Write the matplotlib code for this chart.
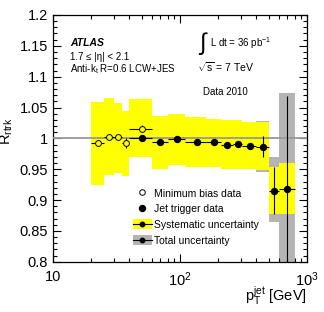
import numpy as np
import matplotlib
matplotlib.use('Agg')
import matplotlib.pyplot as plt
from matplotlib.patches import Patch
from matplotlib.lines import Line2D
from matplotlib.ticker import FixedLocator, FixedFormatter, MultipleLocator, LogLocator, NullFormatter

plt.rcParams['font.family'] = ['Liberation Sans', 'DejaVu Sans']
plt.rcParams['mathtext.fontset'] = 'custom'
plt.rcParams['mathtext.rm'] = 'Liberation Sans'
plt.rcParams['mathtext.it'] = 'Liberation Sans:italic'
plt.rcParams['mathtext.bf'] = 'Liberation Sans:bold'

# pT bin edges [GeV]
edges = np.array([20, 25, 30, 35, 40, 60, 80, 110, 160, 210, 260, 310, 400, 500, 600, 800])

# systematic uncertainty band (lower / upper edge per bin)
sys_lo = [0.925, 0.940, 0.944, 0.939, 0.969, 0.950, 0.957, 0.954, 0.954, 0.951, 0.951, 0.950, 0.9486, 0.878, 0.878]
sys_hi = [1.059, 1.066, 1.058, 1.044, 1.064, 1.036, 1.039, 1.034, 1.032, 1.030, 1.030, 1.027, 1.026, 0.954, 0.9595]
# total uncertainty band
tot_lo = [0.925, 0.940, 0.944, 0.939, 0.969, 0.950, 0.957, 0.954, 0.954, 0.951, 0.951, 0.950, 0.946, 0.865, 0.75]
tot_hi = [1.059, 1.066, 1.058, 1.044, 1.064, 1.036, 1.039, 1.034, 1.032, 1.030, 1.030, 1.027, 1.0285, 0.969, 1.074]

# minimum bias data (first 5 bins)
mb_y = [0.992, 1.003, 1.0015, 0.992, 1.016]
mb_err = [0.002, 0.002, 0.002, 0.008, 0.005]

# jet trigger data (bins 5..15)
jet_y = [1.000, 0.9935, 0.999, 0.9935, 0.9935, 0.989, 0.991, 0.988, 0.9865, 0.915, 0.918]
jet_err = [0.002, 0.002, 0.002, 0.002, 0.002, 0.003, 0.003, 0.004, 0.017, 0.038, 0.15]

yellow = '#ffff00'
grey = '#b4b4b4'

left = edges[:-1]
right = edges[1:]
centers = 0.5 * (left + right)
widths = right - left

fig = plt.figure(figsize=(3.24, 3.12), dpi=100)
ax = fig.add_axes([0.1636, 0.161, 0.784, 0.791])
ax.set_xscale('log')

# bands
ax.bar(left, np.array(tot_hi) - np.array(tot_lo), width=widths, bottom=tot_lo,
       align='edge', color=grey, linewidth=0, zorder=1)
ax.bar(left, np.array(sys_hi) - np.array(sys_lo), width=widths, bottom=sys_lo,
       align='edge', color=yellow, linewidth=0, zorder=2)

ax.axhline(1.0, color='#999999', lw=1.3, zorder=3)

# minimum bias points
xm = centers[:5]
ax.errorbar(xm, mb_y, yerr=mb_err, xerr=[xm - left[:5], right[:5] - xm],
            fmt='o', ms=4.2, mfc=yellow, mec='black', mew=0.7, color='black',
            elinewidth=0.8, capsize=0, zorder=4)

# jet trigger points
xj = centers[4:]
ax.errorbar(xj, jet_y, yerr=jet_err, xerr=[xj - left[4:], right[4:] - xj],
            fmt='o', ms=4.3, mfc='black', mec='black', color='black',
            elinewidth=0.8, capsize=0, zorder=5)

ax.set_xlim(10, 1000)
ax.set_ylim(0.8, 1.2)

ax.xaxis.set_major_locator(FixedLocator([10, 100, 1000]))
ax.xaxis.set_major_formatter(FixedFormatter(['10', '$10^2$', '$10^3$']))
ax.xaxis.set_minor_locator(LogLocator(base=10, subs=np.arange(2, 10)))
ax.xaxis.set_minor_formatter(NullFormatter())
ax.yaxis.set_minor_locator(MultipleLocator(0.01))
ax.set_yticks([0.8, 0.85, 0.9, 0.95, 1.0, 1.05, 1.1, 1.15, 1.2])
ax.set_yticklabels(['0.8', '0.85', '0.9', '0.95', '1', '1.05', '1.1', '1.15', '1.2'])
ax.tick_params(which='both', direction='in', top=True, right=True, labelsize=10.5, width=0.8)
ax.tick_params(which='major', length=6)
ax.tick_params(which='minor', length=3)
ax.tick_params(axis='x', pad=6)
for s in ax.spines.values():
    s.set_linewidth(0.9)

ax.set_xlabel(r'p$_{\mathregular{T}}^{\mathregular{jet}}$ [GeV]', fontsize=10.5, loc='right')
ax.set_ylabel(r'R$_{\mathregular{rtrk}}$', fontsize=10.5)
ax.yaxis.set_label_coords(-0.15, 0.53)
ax.xaxis.set_label_coords(1.0, -0.095)

# annotations
fig.text(70 / 324, 1 - 43 / 312, 'ATLAS', fontsize=7.5, fontweight='bold', fontstyle='italic', va='center')
fig.text(70 / 324, 1 - 57 / 312, '1.7 ≤ |η| < 2.1', fontsize=7, va='center')
fig.text(70 / 324, 1 - 69 / 312, r'Anti-k$_{\mathregular{t}}$ R=0.6 LCW+JES', fontsize=7, va='center')
fig.text(199 / 324, 1 - 44 / 312, '∫', fontsize=17, va='center')
fig.text(210 / 324, 1 - 43 / 312, r'L dt = 36 pb$^{\mathregular{-1}}$', fontsize=7, va='center')
fig.text(197 / 324, 1 - 67 / 312, r'$\sqrt{\mathregular{s}}$ = 7 TeV', fontsize=7.5, va='center')
fig.text(203 / 324, 1 - 92 / 312, 'Data 2010', fontsize=7, va='center')

# legend
h_mb = Line2D([], [], ls='none', marker='o', ms=4, mfc='white', mec='black', mew=0.7)
h_jet = Line2D([], [], ls='none', marker='o', ms=4.3, mfc='black', mec='black')
h_line = Line2D([], [], color='black', lw=0.8, marker='o', ms=3.2)
h_sys = (Patch(facecolor=yellow, edgecolor='none'), h_line)
h_tot = (Patch(facecolor=grey, edgecolor='none'), h_line)
ax.legend([h_mb, h_jet, h_sys, h_tot],
          ['Minimum bias data', 'Jet trigger data', 'Systematic uncertainty', 'Total uncertainty'],
          loc='upper left', bbox_to_anchor=(133 / 324, 1 - 188 / 312), bbox_transform=fig.transFigure,
          frameon=False, fontsize=7.5, handlelength=1.8, handleheight=1.1, handletextpad=0.25,
          labelspacing=0.5, borderpad=0, borderaxespad=0)

fig.savefig('out.png', dpi=100)
